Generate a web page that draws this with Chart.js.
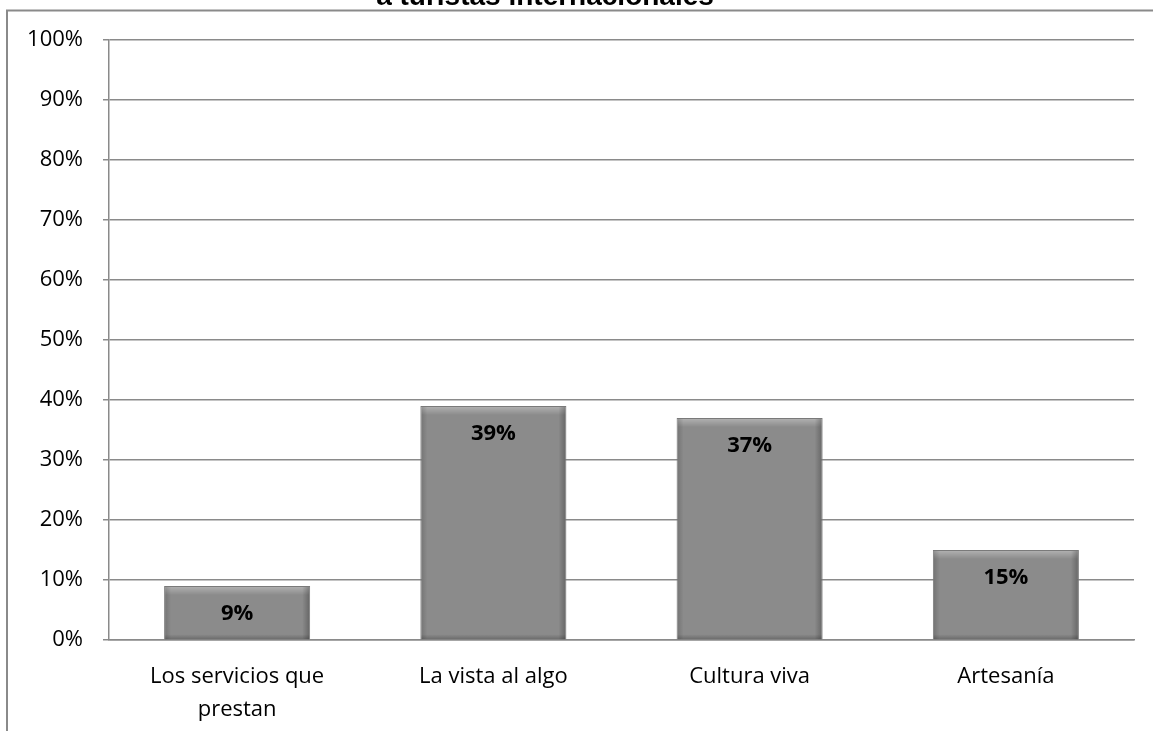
<!DOCTYPE html>
<html>
<head>
<meta charset="utf-8">
<script src="https://cdn.jsdelivr.net/npm/chart.js@4"></script>
<style>
  html, body { margin: 0; padding: 0; background: #fff; }
  #wrap { width: 1153px; height: 731px; position: relative; }
</style>
</head>
<body>
<div id="wrap"><canvas id="chart" width="1153" height="731"></canvas></div>
<script>
// datos
const TITULO = 'a turistas internacionales';
const categorias = [['Los servicios que', 'prestan'], 'La vista al algo', 'Cultura viva', 'Artesanía'];
const valores = [9, 39, 37, 15];
const ticksY = [0, 10, 20, 30, 40, 50, 60, 70, 80, 90, 100];

const FUENTE = '"Open Sans", sans-serif';

// marco del gráfico y título cortado arriba
const marco = {
  id: 'marco',
  afterDraw(chart) {
    const ctx = chart.ctx;
    ctx.save();
    ctx.strokeStyle = '#8a8a8a';
    ctx.lineWidth = 2;
    ctx.beginPath();
    ctx.moveTo(1153, 10.5);
    ctx.lineTo(7, 10.5);
    ctx.lineTo(7, 731);
    ctx.stroke();
    ctx.fillStyle = '#000';
    ctx.font = 'bold 28px "Liberation Sans", Arial, sans-serif';
    ctx.textAlign = 'center';
    ctx.textBaseline = 'alphabetic';
    ctx.fillText(TITULO, 545, 5);
    ctx.restore();
  }
};

// relieve de las barras y etiquetas de valor
const relieve = {
  id: 'relieve',
  afterDatasetsDraw(chart) {
    const ctx = chart.ctx;
    const meta = chart.getDatasetMeta(0);
    ctx.save();
    meta.data.forEach((bar, i) => {
      const l = bar.x - bar.width / 2, r = bar.x + bar.width / 2;
      const t = bar.y, b = bar.base;
      // brillo superior
      let g = ctx.createLinearGradient(0, t, 0, t + 9);
      g.addColorStop(0, 'rgba(255,255,255,0.35)');
      g.addColorStop(1, 'rgba(255,255,255,0)');
      ctx.fillStyle = g;
      ctx.fillRect(l + 1, t + 1, r - l - 2, 9);
      // sombra lateral izquierda
      g = ctx.createLinearGradient(l, 0, l + 7, 0);
      g.addColorStop(0, 'rgba(0,0,0,0.18)');
      g.addColorStop(1, 'rgba(0,0,0,0)');
      ctx.fillStyle = g;
      ctx.fillRect(l + 1, t + 1, 7, b - t - 1);
      // sombra lateral derecha
      g = ctx.createLinearGradient(r - 8, 0, r, 0);
      g.addColorStop(0, 'rgba(0,0,0,0)');
      g.addColorStop(1, 'rgba(0,0,0,0.28)');
      ctx.fillStyle = g;
      ctx.fillRect(r - 8, t + 1, 7, b - t - 1);
      // sombra inferior
      g = ctx.createLinearGradient(0, b - 5, 0, b);
      g.addColorStop(0, 'rgba(0,0,0,0)');
      g.addColorStop(1, 'rgba(0,0,0,0.22)');
      ctx.fillStyle = g;
      ctx.fillRect(l + 1, b - 5, r - l - 2, 5);
    });
    ctx.fillStyle = '#000';
    ctx.font = 'bold 22px ' + FUENTE;
    ctx.textAlign = 'center';
    ctx.textBaseline = 'middle';
    meta.data.forEach((bar, i) => {
      ctx.fillText(valores[i] + '%', bar.x, bar.y + 28);
    });
    ctx.restore();
  }
};

new Chart(document.getElementById('chart'), {
  type: 'bar',
  data: {
    labels: categorias,
    datasets: [{
      data: valores,
      backgroundColor: '#8b8b8b',
      borderColor: '#7a7a7a',
      borderWidth: 1,
      categoryPercentage: 1,
      barPercentage: 0.57
    }]
  },
  options: {
    responsive: false,
    animation: false,
    layout: { padding: { top: 40, right: 19, left: 0, bottom: 0 } },
    plugins: {
      legend: { display: false },
      tooltip: { enabled: false },
      title: { display: false }
    },
    scales: {
      y: {
        min: 0,
        max: 100,
        afterFit(scale) { scale.width = 109; },
        afterBuildTicks(scale) { scale.ticks = ticksY.map(v => ({ value: v })); },
        grid: { color: '#8a8a8a', lineWidth: 1.5, tickLength: 6 },
        border: { color: '#8a8a8a', width: 1.5 },
        ticks: {
          color: '#000',
          padding: 20,
          font: { family: FUENTE, size: 22 },
          callback: v => v + '%'
        }
      },
      x: {
        afterFit(scale) { scale.height = 91; },
        grid: { display: false },
        border: { color: '#8a8a8a', width: 1.5 },
        ticks: {
          color: '#000',
          padding: 12,
          maxRotation: 0,
          font: { family: FUENTE, size: 22, lineHeight: 1.5 }
        }
      }
    }
  },
  plugins: [marco, relieve]
});
</script>
</body>
</html>
